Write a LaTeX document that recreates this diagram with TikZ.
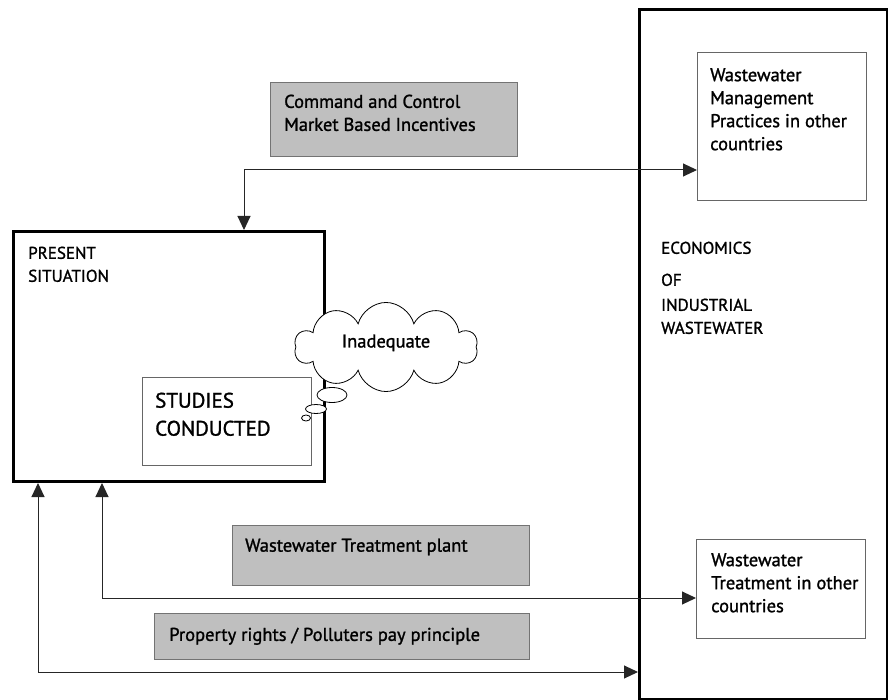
\documentclass[tikz,border=0pt]{standalone}
\usepackage{fontspec}
\setmainfont{PT Sans}
\newfontfamily\heavyfont{PT Sans}[FakeBold=1.3]
\usetikzlibrary{arrows.meta,shapes.symbols,shapes.geometric}

\begin{document}
\begin{tikzpicture}[x=1pt,y=-1pt,
    thickbox/.style={draw=black,line width=3pt,anchor=north west,inner sep=0pt},
    thinbox/.style={draw=black!60,line width=1pt,anchor=north west,fill=white,inner sep=0pt},
    greybox/.style={draw=black!55,line width=1pt,fill=black!25,anchor=north west,inner sep=0pt},
    label/.style={anchor=north west,align=left,inner sep=0pt,font=\heavyfont\fontsize{18.5}{23}\selectfont},
    caps/.style={label,font=\heavyfont\fontsize{17}{23}\selectfont},
    link/.style={draw=black!85,line width=1pt,{Triangle[length=14pt,width=13pt]}-{Triangle[length=14pt,width=13pt]}},
    bubble/.style={ellipse,draw=black,line width=0.8pt,fill=white,inner sep=0pt}]
    \useasboundingbox (0,0) rectangle (888,700);

    % boxes
    \node[thickbox,minimum width=248pt,minimum height=690pt] (econ) at (638,8) {};
    \node[thinbox,minimum width=169pt,minimum height=148pt] (prac) at (697,52) {};
    \node[thinbox,minimum width=169pt,minimum height=99pt] (treat) at (696,539) {};
    \node[thickbox,minimum width=311pt,minimum height=250pt] (present) at (12,230) {};
    \node[thinbox,minimum width=169pt,minimum height=88pt] (studies) at (142,377) {};
    \node[greybox,minimum width=247pt,minimum height=74pt] (cmd) at (270,82) {};
    \node[greybox,minimum width=297pt,minimum height=60pt] (plant) at (232,525) {};
    \node[greybox,minimum width=375pt,minimum height=46pt] (prop) at (154,613) {};

    % texts
    \node[caps] (econtxt) at ([shift={(23,233.5)}]econ.north west)
        {ECONOMICS\\[9pt] OF\\[2pt] INDUSTRIAL\\ WASTEWATER};
    \node[label] (practxt) at ([shift={(13,16)}]prac.north west)
        {Wastewater\\ Management\\ Practices in other\\ countries};
    \node[label] (treattxt) at ([shift={(15,14)}]treat.north west)
        {Wastewater\\ Treatment in other\\ countries};
    \node[caps] (presenttxt) at ([shift={(16,16.5)}]present.north west)
        {PRESENT\\ SITUATION};
    \node[caps,font=\heavyfont\fontsize{21}{28}\selectfont] (studiestxt) at ([shift={(13,15.5)}]studies.north west)
        {STUDIES\\ CONDUCTED};
    \node[label] (cmdtxt) at ([shift={(14,12.5)}]cmd.north west)
        {Command and Control\\ Market Based Incentives};
    \node[label] (planttxt) at ([shift={(13,13.5)}]plant.north west)
        {Wastewater Treatment plant};
    \node[label] (proptxt) at ([shift={(15,14.5)}]prop.north west)
        {Property rights / Polluters pay principle};

    % thought cloud
    \node[cloud,cloud puffs=10,aspect=2,draw=black,line width=0.8pt,fill=white,
        minimum width=183pt,minimum height=89pt,inner sep=0pt,
        font=\heavyfont\fontsize{18.5}{23}\selectfont] (cloud) at (386,347) {\raisebox{12pt}{Inadequate}};
    \node[bubble,minimum width=30pt,minimum height=15pt] (b1) at (332,395) {};
    \node[bubble,minimum width=21pt,minimum height=9pt] (b2) at (316,409) {};
    \node[bubble,minimum width=9pt,minimum height=6pt] (b3) at (306,418) {};

    % connectors
    \coordinate (topbend) at (244,170);
    \coordinate (midbend) at (102,598);
    \coordinate (lowbend) at (38,672);
    \draw[link] (prac.west |- topbend) -- (topbend) -- (topbend |- present.north);
    \draw[link] (present.south -| midbend) -- (midbend) -- (treat.west |- midbend);
    \draw[link] (present.south -| lowbend) -- (lowbend) -- (econ.west |- lowbend);
\end{tikzpicture}
\end{document}
